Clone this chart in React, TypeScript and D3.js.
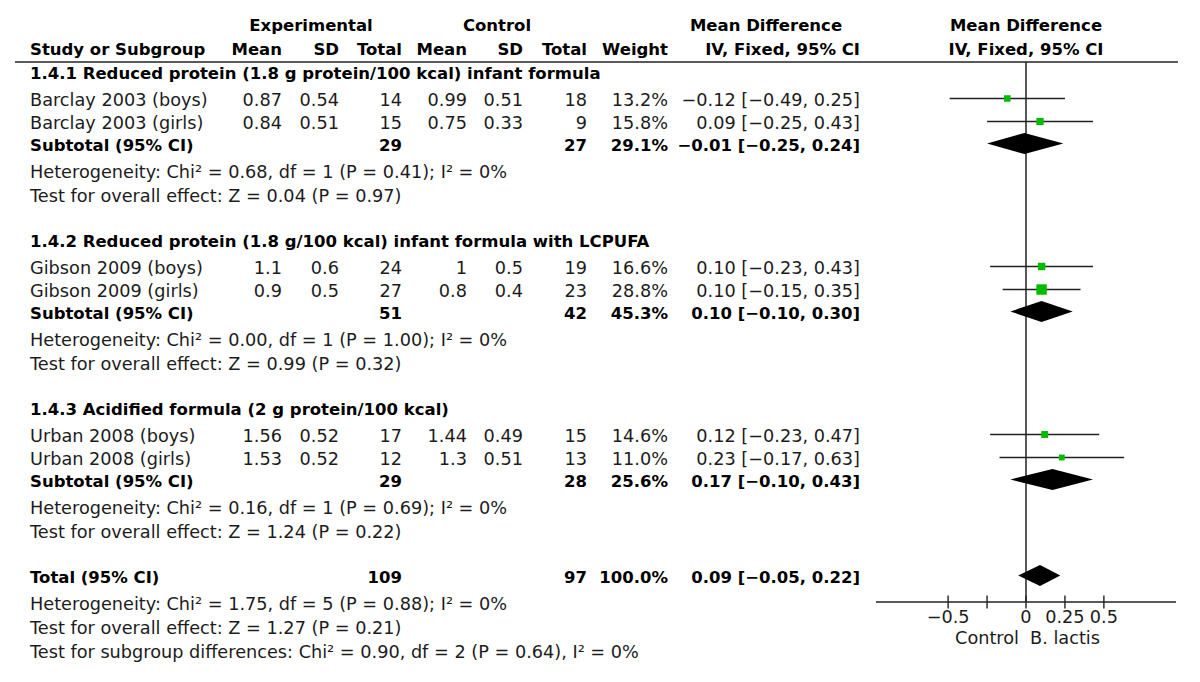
import React from "react";
import * as d3 from "d3";

// ---------- data ----------
const sectionTitles = [
  "1.4.1 Reduced protein (1.8 g protein/100 kcal) infant formula",
  "1.4.2 Reduced protein (1.8 g/100 kcal) infant formula with LCPUFA",
  "1.4.3 Acidified formula (2 g protein/100 kcal)",
];
const studyNames = [
  "Barclay 2003 (boys)",
  "Barclay 2003 (girls)",
  "Gibson 2009 (boys)",
  "Gibson 2009 (girls)",
  "Urban 2008 (boys)",
  "Urban 2008 (girls)",
];
const studySection = [0, 0, 1, 1, 2, 2];
const expMean = [0.87, 0.84, 1.1, 0.9, 1.56, 1.53];
const expSD = [0.54, 0.51, 0.6, 0.5, 0.52, 0.52];
const expN = [14, 15, 24, 27, 17, 12];
const ctlMean = [0.99, 0.75, 1, 0.8, 1.44, 1.3];
const ctlSD = [0.51, 0.33, 0.5, 0.4, 0.49, 0.51];
const ctlN = [18, 9, 19, 23, 15, 13];
const studyWeight = [13.2, 15.8, 16.6, 28.8, 14.6, 11.0];
const studyMD = [-0.12, 0.09, 0.1, 0.1, 0.12, 0.23];
const studyLo = [-0.49, -0.25, -0.23, -0.15, -0.23, -0.17];
const studyHi = [0.25, 0.43, 0.43, 0.35, 0.47, 0.63];

const subExpN = [29, 51, 29];
const subCtlN = [27, 42, 28];
const subWeight = [29.1, 45.3, 25.6];
const subMD = [-0.01, 0.1, 0.17];
const subLo = [-0.25, -0.1, -0.1];
const subHi = [0.24, 0.3, 0.43];
const subChi = [0.68, 0.0, 0.16];
const subDf = [1, 1, 1];
const subHetP = [0.41, 1.0, 0.69];
const subI2 = [0, 0, 0];
const subZ = [0.04, 0.99, 1.24];
const subZP = [0.97, 0.32, 0.22];

const totalExpN = 109;
const totalCtlN = 97;
const totalWeight = 100.0;
const totalMD = 0.09;
const totalLo = -0.05;
const totalHi = 0.22;
const totalChi = 1.75;
const totalDf = 5;
const totalHetP = 0.88;
const totalI2 = 0;
const totalZ = 1.27;
const totalZP = 0.21;
const sgChi = 0.9;
const sgDf = 2;
const sgP = 0.64;
const sgI2 = 0;

const axisTicks = [-0.5, -0.25, 0, 0.25, 0.5];
const axisTickLabels = ["\u22120.5", "", "0", "0.25", "0.5"];
const favoursLeft = "Control";
const favoursRight = "B. lactis";

// ---------- layout ----------
const W = 1200;
const H = 682;
const FONT = "'DejaVu Sans', Verdana, sans-serif";
const FS = 17.7;
const FSB = 16.5;
const TXT = "#1c1c1c";
const TXTB = "#000";
const LINE = "#222";
const GREEN = "#00bb00";
const LEFT = 30;
const col = {
  expMean: 282,
  expSD: 339,
  expN: 402,
  ctlMean: 467,
  ctlSD: 523,
  ctlN: 587,
  weight: 668,
  ci: 860,
};
const HEADER_LINE_Y = 62;
const AXIS_Y = 602;
const SECTION_TOP = 73;
const SECTION_STEP = 168;
const TOTAL_Y = 577;

const x = d3.scaleLinear().domain([-0.963, 0.963]).range([876, 1176]);
const sq = d3.scalePow().exponent(0.6).domain([0, 28.8]).range([0, 10.4]);

const f2 = (v: number) => {
  const s = Math.abs(v).toFixed(2);
  return (v < 0 ? "\u2212" : "") + s;
};
const ciText = (m: number, lo: number, hi: number) => `${f2(m)} [${f2(lo)}, ${f2(hi)}]`;
const hetText = (chi: number, df: number, p: number, i2: number) =>
  `Heterogeneity: Chi\u00B2 = ${chi.toFixed(2)}, df = ${df} (P = ${p.toFixed(2)}); I\u00B2 = ${i2}%`;
const zText = (z: number, p: number) => `Test for overall effect: Z = ${z.toFixed(2)} (P = ${p.toFixed(2)})`;

type TProps = {
  x: number;
  y: number;
  bold?: boolean;
  anchor?: "start" | "middle" | "end";
  children: React.ReactNode;
};
const T = ({ x, y, bold, anchor = "start", children }: TProps) => (
  <text
    x={x}
    y={y + 6}
    textAnchor={anchor}
    fontFamily={FONT}
    fontSize={bold ? FSB : FS}
    fontWeight={bold ? "bold" : "normal"}
    fill={bold ? TXTB : TXT}
  >
    {children}
  </text>
);

const Diamond = ({ y, m, lo, hi }: { y: number; m: number; lo: number; hi: number }) => {
  const h = 10.5;
  const path = d3.line()([
    [x(lo), y],
    [x(m), y - h],
    [x(hi), y],
    [x(m), y + h],
  ]) + "Z";
  return <path d={path} fill="#000" stroke="none" />;
};

export default function App() {
  const sectionY = (i: number) => SECTION_TOP + SECTION_STEP * i;
  const studyY = (k: number) => {
    const s = studySection[k];
    const idx = studySection.slice(0, k).filter((v) => v === s).length;
    return sectionY(s) + 27 + idx * 23;
  };
  const MK = -1.5; // marker offset relative to text center

  return (
    <svg
      width={W}
      height={H}
      viewBox={`0 0 ${W} ${H}`}
      style={{ position: "absolute", left: 0, top: 0, background: "#fff" }}
    >
      <rect x={0} y={0} width={W} height={H} fill="#fff" />

      {/* headers */}
      <T x={311} y={25} bold anchor="middle">Experimental</T>
      <T x={497} y={25} bold anchor="middle">Control</T>
      <T x={766} y={25} bold anchor="middle">Mean Difference</T>
      <T x={x(0)} y={25} bold anchor="middle">Mean Difference</T>
      <T x={LEFT} y={48.5} bold>Study or Subgroup</T>
      <T x={col.expMean} y={48.5} bold anchor="end">Mean</T>
      <T x={col.expSD} y={48.5} bold anchor="end">SD</T>
      <T x={col.expN} y={48.5} bold anchor="end">Total</T>
      <T x={col.ctlMean} y={48.5} bold anchor="end">Mean</T>
      <T x={col.ctlSD} y={48.5} bold anchor="end">SD</T>
      <T x={col.ctlN} y={48.5} bold anchor="end">Total</T>
      <T x={col.weight} y={48.5} bold anchor="end">Weight</T>
      <T x={col.ci} y={48.5} bold anchor="end">IV, Fixed, 95% CI</T>
      <T x={x(0)} y={48.5} bold anchor="middle">IV, Fixed, 95% CI</T>
      <line x1={15} x2={1178} y1={HEADER_LINE_Y} y2={HEADER_LINE_Y} stroke={LINE} strokeWidth={1.6} />

      {/* zero line */}
      <line x1={x(0)} x2={x(0)} y1={HEADER_LINE_Y} y2={AXIS_Y} stroke={LINE} strokeWidth={1.5} />

      {/* sections */}
      {sectionTitles.map((title, i) => {
        const y0 = sectionY(i);
        const ySub = y0 + 72;
        return (
          <g key={title}>
            <T x={LEFT} y={y0} bold>{title}</T>
            <T x={LEFT} y={ySub} bold>Subtotal (95% CI)</T>
            <T x={col.expN} y={ySub} bold anchor="end">{subExpN[i]}</T>
            <T x={col.ctlN} y={ySub} bold anchor="end">{subCtlN[i]}</T>
            <T x={col.weight} y={ySub} bold anchor="end">{subWeight[i].toFixed(1) + "%"}</T>
            <T x={col.ci} y={ySub} bold anchor="end">{ciText(subMD[i], subLo[i], subHi[i])}</T>
            <T x={LEFT} y={y0 + 99}>{hetText(subChi[i], subDf[i], subHetP[i], subI2[i])}</T>
            <T x={LEFT} y={y0 + 123}>{zText(subZ[i], subZP[i])}</T>
            <Diamond y={ySub + MK} m={subMD[i]} lo={subLo[i]} hi={subHi[i]} />
          </g>
        );
      })}

      {/* studies */}
      {studyNames.map((name, k) => {
        const y = studyY(k);
        const s = sq(studyWeight[k]);
        return (
          <g key={name}>
            <T x={LEFT} y={y}>{name}</T>
            <T x={col.expMean} y={y} anchor="end">{String(expMean[k])}</T>
            <T x={col.expSD} y={y} anchor="end">{String(expSD[k])}</T>
            <T x={col.expN} y={y} anchor="end">{expN[k]}</T>
            <T x={col.ctlMean} y={y} anchor="end">{String(ctlMean[k])}</T>
            <T x={col.ctlSD} y={y} anchor="end">{String(ctlSD[k])}</T>
            <T x={col.ctlN} y={y} anchor="end">{ctlN[k]}</T>
            <T x={col.weight} y={y} anchor="end">{studyWeight[k].toFixed(1) + "%"}</T>
            <T x={col.ci} y={y} anchor="end">{ciText(studyMD[k], studyLo[k], studyHi[k])}</T>
            <line
              x1={x(studyLo[k])}
              x2={x(studyHi[k])}
              y1={y + MK}
              y2={y + MK}
              stroke={LINE}
              strokeWidth={1.4}
            />
            <rect
              x={x(studyMD[k]) - s / 2}
              y={y + MK - s / 2}
              width={s}
              height={s}
              fill={GREEN}
            />
          </g>
        );
      })}

      {/* total */}
      <T x={LEFT} y={TOTAL_Y} bold>Total (95% CI)</T>
      <T x={col.expN} y={TOTAL_Y} bold anchor="end">{totalExpN}</T>
      <T x={col.ctlN} y={TOTAL_Y} bold anchor="end">{totalCtlN}</T>
      <T x={col.weight} y={TOTAL_Y} bold anchor="end">{totalWeight.toFixed(1) + "%"}</T>
      <T x={col.ci} y={TOTAL_Y} bold anchor="end">{ciText(totalMD, totalLo, totalHi)}</T>
      <Diamond y={TOTAL_Y + MK} m={totalMD} lo={totalLo} hi={totalHi} />
      <T x={LEFT} y={TOTAL_Y + 27}>{hetText(totalChi, totalDf, totalHetP, totalI2)}</T>
      <T x={LEFT} y={TOTAL_Y + 51}>{zText(totalZ, totalZP)}</T>
      <T x={LEFT} y={TOTAL_Y + 75}>
        {`Test for subgroup differences: Chi\u00B2 = ${sgChi.toFixed(2)}, df = ${sgDf} (P = ${sgP.toFixed(2)}), I\u00B2 = ${sgI2}%`}
      </T>

      {/* axis */}
      <line x1={x.range()[0]} x2={x.range()[1]} y1={AXIS_Y} y2={AXIS_Y} stroke={LINE} strokeWidth={1.4} />
      {axisTicks.map((t, i) => (
        <g key={t}>
          <line x1={x(t)} x2={x(t)} y1={AXIS_Y - 6.5} y2={AXIS_Y + 6.5} stroke={LINE} strokeWidth={1.4} />
          <T x={x(t)} y={AXIS_Y + 15} anchor="middle">{axisTickLabels[i]}</T>
        </g>
      ))}
      <T x={987} y={AXIS_Y + 36} anchor="middle">{favoursLeft}</T>
      <T x={1065} y={AXIS_Y + 36} anchor="middle">{favoursRight}</T>
    </svg>
  );
}
